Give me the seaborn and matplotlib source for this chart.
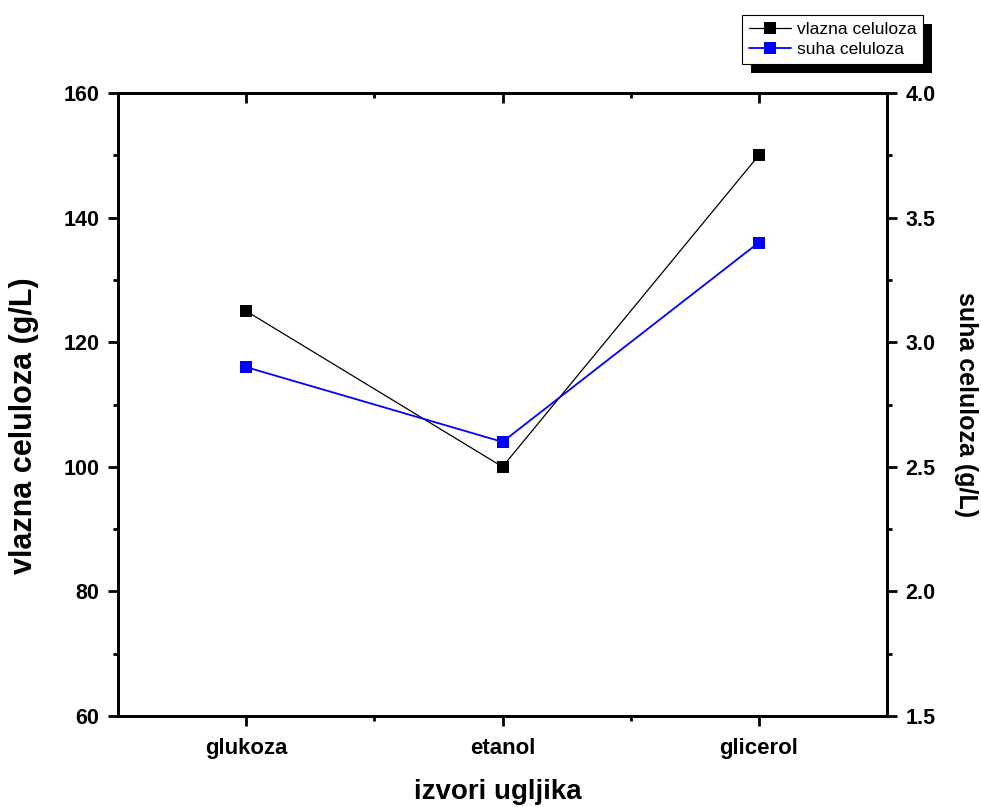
import matplotlib
matplotlib.use('Agg')
import matplotlib.pyplot as plt
import seaborn as sns
import pandas as pd
from matplotlib.ticker import MultipleLocator, FixedLocator
from matplotlib.patches import Rectangle

# ---- data ----
categories = ['glukoza', 'etanol', 'glicerol']
vlazna = [125, 100, 150]      # left axis (g/L)
suha = [2.9, 2.6, 3.4]        # right axis (g/L)
xlabel = 'izvori ugljika'
ylabel_left = 'vlazna celuloza (g/L)'
ylabel_right = 'suha celuloza (g/L)'
series_labels = ['vlazna celuloza', 'suha celuloza']
right_ticks = [1.5, 2.0, 2.5, 3.0, 3.5, 4.0]
right_ticklabels = ['1.5', '2.0', '2.5', '3.0', '3.5', '4.0']

sns.set_theme(style='ticks')
plt.rcParams['font.family'] = ['Liberation Sans', 'DejaVu Sans']
plt.rcParams['text.color'] = 'black'
plt.rcParams['axes.labelcolor'] = 'black'

W, H = 981, 807
fig = plt.figure(figsize=(W / 100, H / 100), dpi=100)
L, R, T, B = 118, 887, 93, 716
ax = fig.add_axes([L / W, 1 - B / H, (R - L) / W, (B - T) / H])

pos = list(range(len(categories)))
df = pd.DataFrame({'pos': pos, 'cat': categories, 'vlazna': vlazna, 'suha': suha})

sns.lineplot(data=df, x='pos', y='vlazna', ax=ax, color='black', lw=0.9,
             marker='s', markersize=8.5, markeredgewidth=0, legend=False)
ax2 = ax.twinx()
sns.lineplot(data=df, x='pos', y='suha', ax=ax2, color='#0000ff', lw=1.3,
             marker='s', markersize=8.5, markeredgewidth=0, legend=False)

ax.set_xlim(-0.5, 2.5)
ax.set_ylim(60, 160)
ax2.set_ylim(1.5, 4.0)

ax.set_xticks(pos, categories)
ax.xaxis.set_minor_locator(FixedLocator([0.5, 1.5]))
ax.yaxis.set_major_locator(MultipleLocator(20))
ax.yaxis.set_minor_locator(MultipleLocator(10))
ax2.yaxis.set_minor_locator(MultipleLocator(0.25))
ax2.set_yticks(right_ticks, right_ticklabels)

for a in (ax, ax2):
    for s in a.spines.values():
        s.set_linewidth(2)
        s.set_color('black')
    a.tick_params(which='major', length=7.5, width=2, direction='out', pad=6, colors='black')
    a.tick_params(which='minor', length=3.6, width=2, direction='out', colors='black')
    for lab in a.get_yticklabels():
        lab.set_fontsize(15.5)
        lab.set_fontweight('bold')
for lab in ax.get_xticklabels():
    lab.set_fontsize(16)
    lab.set_fontweight('bold')
ax.tick_params(axis='x', which='major', pad=8)
ax.tick_params(axis='y', right=False, which='both')

# top axis ticks inward
sec = ax.secondary_xaxis('top')
sec.set_xticks(pos)
sec.xaxis.set_minor_locator(FixedLocator([0.5, 1.5]))
sec.tick_params(which='major', direction='in', length=7.5, width=2, labeltop=False, colors='black')
sec.tick_params(which='minor', direction='in', length=3.6, width=2, colors='black')
sec.spines['top'].set_linewidth(2)
sec.spines['top'].set_color('black')

ax.set_xlabel(xlabel, fontsize=20, fontweight='bold', va='center', color='black')
ax.xaxis.set_label_coords((497.5 - L) / (R - L), (B - 792) / (B - T))
ax.set_ylabel(ylabel_left, fontsize=22, fontweight='bold', va='center', color='black')
ax.yaxis.set_label_coords((24 - L) / (R - L), (B - 426) / (B - T))
ax2.set_ylabel(ylabel_right, fontsize=18, fontweight='bold', rotation=270, va='center', color='black')
ax2.yaxis.set_label_coords((966 - L) / (R - L), (B - 405) / (B - T))

# legend
handles = [ax.get_lines()[0], ax2.get_lines()[0]]
leg = fig.legend(handles, series_labels, loc='upper left',
                 bbox_to_anchor=(742 / W, 1 - 15 / H), bbox_transform=fig.transFigure,
                 frameon=True, fancybox=False, framealpha=1, edgecolor='black',
                 prop={'size': 12.5}, handlelength=2.4, handletextpad=0.35,
                 borderpad=0.4, labelspacing=0.3, borderaxespad=0)
leg.get_frame().set_linewidth(0.8)
leg.set_zorder(10)
for t in leg.get_texts():
    t.set_color('black')

fig.canvas.draw()
bb = leg.get_window_extent()
off = 9
shadow = Rectangle(((bb.x0 + off) / W, (bb.y0 - off) / H), bb.width / W, bb.height / H,
                   transform=fig.transFigure, facecolor='black', edgecolor='none', zorder=9)
fig.add_artist(shadow)

fig.savefig('out.png', dpi=100)
